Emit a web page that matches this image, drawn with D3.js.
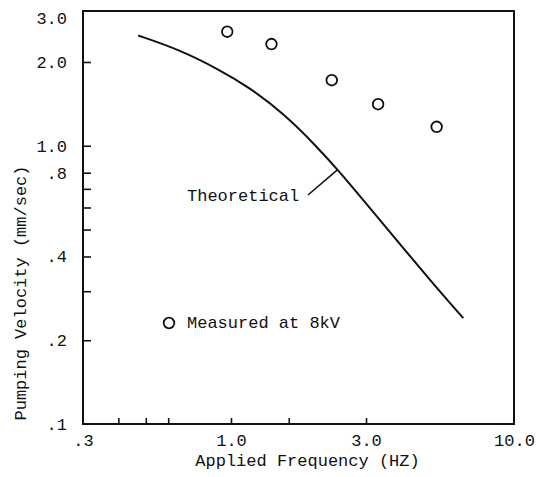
<!DOCTYPE html>
<html>
<head>
<meta charset="utf-8">
<script src="https://cdn.jsdelivr.net/npm/d3@7/dist/d3.min.js"></script>
<style>
  html, body { margin: 0; padding: 0; background: #fff; }
  svg { display: block; }
  text { font-family: "Liberation Mono", "DejaVu Sans Mono", monospace; fill: #111; }
</style>
</head>
<body>
<svg id="chart" width="548" height="477"></svg>
<script>
// ---- data ----
const measuredFreq = [0.97, 1.39, 2.27, 3.31, 5.33];
const measuredVel  = [2.57, 2.32, 1.72, 1.41, 1.17];

const theoFreq = [0.47, 0.661, 0.915, 1.151, 1.531, 2.01, 2.39, 2.93, 3.85, 5.05, 6.62];
const theoVel  = [2.49, 2.21, 1.87, 1.63, 1.309, 0.993, 0.818, 0.639, 0.458, 0.329, 0.240];

const xTickValues = [0.3, 0.4, 0.5, 0.6, 1.0, 1.6, 3.0, 10.0];
const xTickLabels = [".3", "", "", "", "1.0", "", "3.0", "10.0"];
const yTickValues = [0.1, 0.2, 0.3, 0.4, 0.5, 0.6, 0.7, 0.8, 1.0, 2.0, 3.0];
const yTickLabels = [".1", ".2", "", ".4", "", "", "", ".8", "1.0", "2.0", "3.0"];

const xTitle = "Applied Frequency (HZ)";
const yTitle = "Pumping Velocity (mm/sec)";
const theoLabel = "Theoretical";
const legendLabel = "Measured at 8kV";

// ---- layout ----
const svg = d3.select("#chart");
const L = 83, R = 514, T = 11, B = 424;
const x = d3.scaleLog().domain([0.3, 10]).range([L, R]);
const y = d3.scaleLog().domain([0.1, 3.05]).range([B, T]);
const ink = "#111";

// frame
svg.append("rect")
  .attr("x", L).attr("y", T).attr("width", R - L).attr("height", B - T)
  .attr("fill", "none").attr("stroke", ink).attr("stroke-width", 2);

// x axis
const xAxis = d3.axisBottom(x)
  .tickValues(xTickValues)
  .tickFormat((d, i) => xTickLabels[i])
  .tickSizeInner(-6).tickSizeOuter(0).tickPadding(10);
const gx = svg.append("g").attr("transform", `translate(0,${B})`).call(xAxis);
gx.select(".domain").remove();
gx.selectAll(".tick line").attr("stroke", ink).attr("stroke-width", 1.6);
gx.selectAll(".tick text").attr("font-size", 17).attr("font-family", "Liberation Mono").attr("fill", ink);
gx.selectAll(".tick").filter(d => d === 0.3 || d === 10).select("line").remove();

// y axis
const yAxis = d3.axisLeft(y)
  .tickValues(yTickValues)
  .tickFormat((d, i) => yTickLabels[i])
  .tickSizeInner(-8).tickSizeOuter(0).tickPadding(16);
const gy = svg.append("g").attr("transform", `translate(${L},0)`).call(yAxis);
gy.select(".domain").remove();
gy.selectAll(".tick line").attr("stroke", ink).attr("stroke-width", 1.6);
gy.selectAll(".tick text").attr("font-size", 17).attr("font-family", "Liberation Mono").attr("fill", ink);
gy.selectAll(".tick").filter(d => d === 0.1 || d === 3.0).select("line").remove();
gy.selectAll(".tick").filter(d => d === 3.0).select("text").attr("dy", "0.62em");

// theoretical curve
const theo = theoFreq.map((f, i) => ({ f, v: theoVel[i] }));
svg.append("path")
  .datum(theo)
  .attr("fill", "none").attr("stroke", ink).attr("stroke-width", 2)
  .attr("d", d3.line().x(d => x(d.f)).y(d => y(d.v)).curve(d3.curveBasis));

// measured points
const meas = measuredFreq.map((f, i) => ({ f, v: measuredVel[i] }));
svg.selectAll("circle.meas").data(meas).enter().append("circle")
  .attr("class", "meas")
  .attr("cx", d => x(d.f)).attr("cy", d => y(d.v)).attr("r", 5.3)
  .attr("fill", "none").attr("stroke", ink).attr("stroke-width", 1.8);

// theoretical annotation
const anchor = theo[6];
svg.append("text").attr("x", 187).attr("y", 201).attr("font-size", 17).text(theoLabel);
svg.append("line")
  .attr("x1", 308).attr("y1", 195)
  .attr("x2", x(anchor.f) - 1).attr("y2", y(anchor.v))
  .attr("stroke", ink).attr("stroke-width", 1.6);

// legend
svg.append("circle").attr("cx", 169).attr("cy", 323).attr("r", 5.3)
  .attr("fill", "none").attr("stroke", ink).attr("stroke-width", 1.8);
svg.append("text").attr("x", 187).attr("y", 328).attr("font-size", 17).text(legendLabel);

// axis titles
svg.append("text").attr("x", (L + R) / 2 + 9).attr("y", 466)
  .attr("text-anchor", "middle").attr("font-size", 17).text(xTitle);
svg.append("text")
  .attr("transform", "translate(26,293) rotate(-90)")
  .attr("text-anchor", "middle").attr("font-size", 17).text(yTitle);
</script>
</body>
</html>
